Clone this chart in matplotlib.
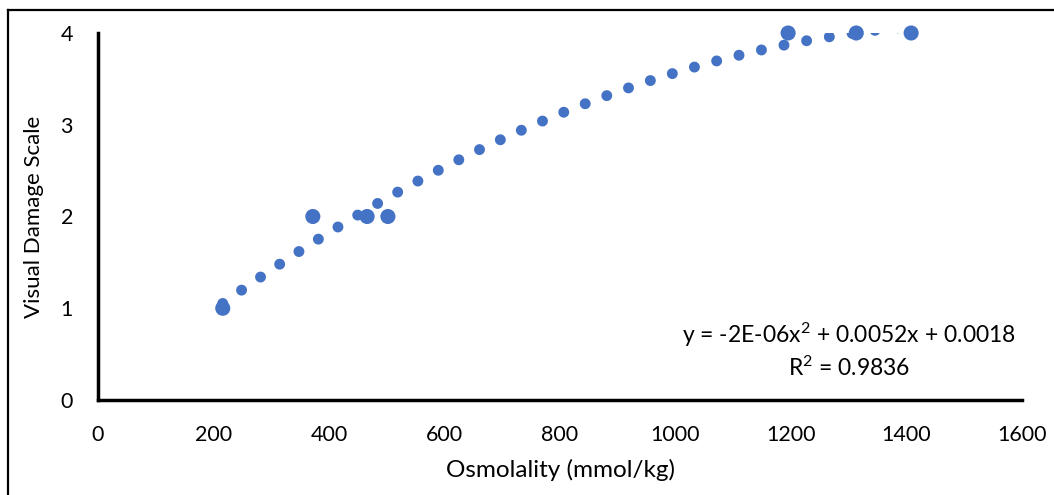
import matplotlib
matplotlib.use("Agg")
import matplotlib.pyplot as plt
import numpy as np
from matplotlib.lines import Line2D

# Data
osmolality = [216, 372, 466, 502, 1195, 1313, 1408]
damage = [1, 2, 2, 2, 4, 4, 4]
x_ticks = [0, 200, 400, 600, 800, 1000, 1200, 1400, 1600]
y_ticks = [0, 1, 2, 3, 4]
equation_line = r"y = -2E-06x$^{2}$ + 0.0052x + 0.0018"
r2_line = r"R$^{2}$ = 0.9836"

blue = "#4472C4"
plt.rcParams["font.family"] = ["Lato", "DejaVu Sans"]
plt.rcParams["mathtext.fontset"] = "custom"
plt.rcParams["mathtext.rm"] = "Lato"
plt.rcParams["mathtext.it"] = "Lato"
plt.rcParams["mathtext.default"] = "regular"

W, H = 1054, 495
fig = plt.figure(figsize=(W / 100, H / 100), dpi=100)
ax = fig.add_axes([98 / W, 1 - 400 / H, (1022 - 98) / W, (400 - 33) / H])

# polynomial trendline (order 2), as Excel computes it from the points
coef = np.polyfit(osmolality, damage, 2)
xs = np.linspace(min(osmolality), max(osmolality), 400)
ax.plot(xs, np.polyval(coef, xs), color=blue, lw=7.9,
        linestyle=(0, (0.001, 2.1)), dash_capstyle="round", zorder=2)

ax.scatter(osmolality, damage, s=118, color=blue, edgecolors="none",
           zorder=3, clip_on=False)

ax.set_xlim(0, 1600)
ax.set_ylim(0, 4)
ax.set_xticks(x_ticks)
ax.set_yticks(y_ticks)
ax.tick_params(length=0, labelsize=15.5)
ax.tick_params(axis="x", pad=18)
ax.tick_params(axis="y", pad=18)

for side in ["top", "right"]:
    ax.spines[side].set_visible(False)
for side in ["left", "bottom"]:
    ax.spines[side].set_linewidth(2.5)
    ax.spines[side].set_capstyle("projecting")

ax.set_xlabel("Osmolality (mmol/kg)", fontsize=17.5, labelpad=10)
ax.set_ylabel("Visual Damage Scale", fontsize=16, labelpad=12)

fig.text(849 / W, 1 - 335 / H, equation_line, ha="center", va="center",
         fontsize=16.5)
fig.text(849 / W, 1 - 368 / H, r2_line, ha="center", va="center",
         fontsize=16.5)

# outer chart frame (cropped at right and bottom)
fig.add_artist(Line2D([7.5 / W, 7.5 / W], [0, 1 - 10 / H], color="black",
                      lw=1.6, transform=fig.transFigure))
fig.add_artist(Line2D([7.5 / W, 1], [1 - 10 / H, 1 - 10 / H], color="black",
                      lw=1.6, transform=fig.transFigure))

fig.savefig("out.png", dpi=100)
